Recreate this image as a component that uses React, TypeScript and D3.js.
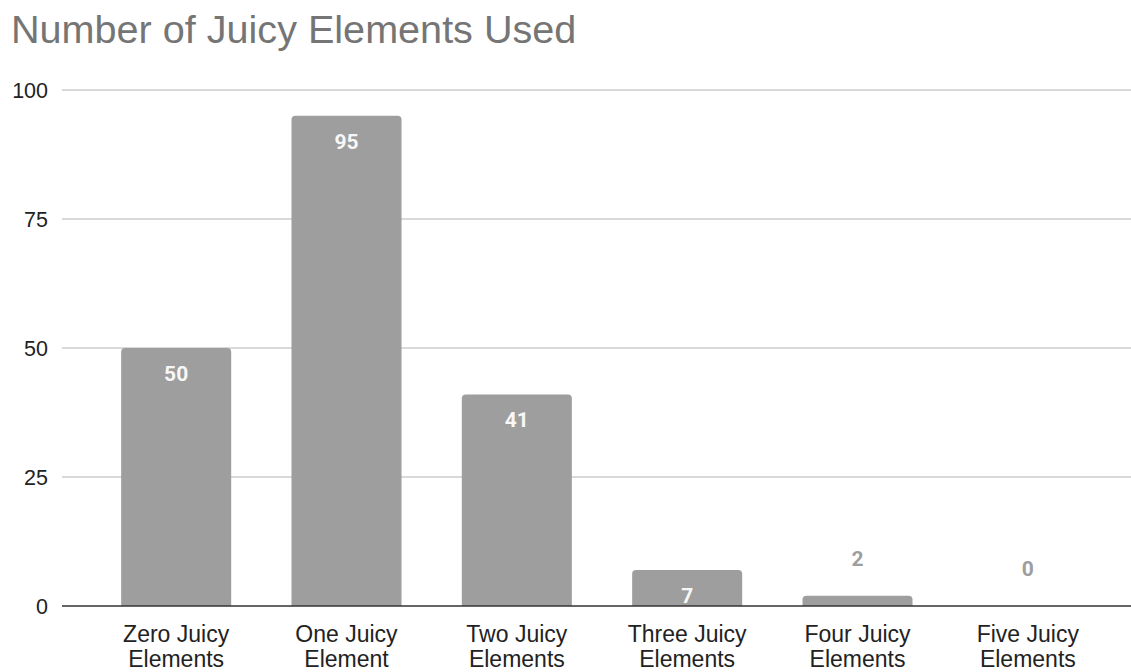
import * as d3 from "d3";

const categories = [
  ["Zero Juicy", "Elements"],
  ["One Juicy", "Element"],
  ["Two Juicy", "Elements"],
  ["Three Juicy", "Elements"],
  ["Four Juicy", "Elements"],
  ["Five Juicy", "Elements"],
];
const counts = [50, 95, 41, 7, 2, 0];
const yTicks = [0, 25, 50, 75, 100];

const W = 1131;
const H = 672;
const BAR = "#9e9e9e";
const SANS = "'Liberation Sans', Arial, sans-serif";

function topRounded(x: number, y: number, w: number, h: number, r: number) {
  const rr = Math.min(r, h, w / 2);
  return `M${x},${y + h}V${y + rr}Q${x},${y} ${x + rr},${y}H${x + w - rr}Q${x + w},${y} ${x + w},${y + rr}V${y + h}Z`;
}

export default function App() {
  const x = d3
    .scaleBand<number>()
    .domain(d3.range(counts.length))
    .range([91, 1113])
    .paddingInner(0.354)
    .paddingOuter(0.177);
  const y = d3.scaleLinear().domain([0, 100]).range([606, 90]);

  return (
    <svg
      width={W}
      height={H}
      style={{ position: "absolute", left: 0, top: 0, background: "#fff" }}
    >
      <text x={11} y={43} fontFamily={SANS} fontSize={39.6} fill="#757575">
        Number of Juicy Elements Used
      </text>

      {yTicks.map((t) => (
        <g key={t}>
          {t !== 0 && (
            <line x1={62} x2={W} y1={y(t)} y2={y(t)} stroke="#cccccc" strokeWidth={1.5} />
          )}
          <text
            x={48}
            y={y(t)}
            dy="0.36em"
            textAnchor="end"
            fontFamily={SANS}
            fontSize={21.5}
            fill="#222"
          >
            {t}
          </text>
        </g>
      ))}

      {counts.map((v, i) => {
        const bx = x(i)!;
        const bw = x.bandwidth();
        const top = y(v);
        const h = y(0) - top;
        const cx = bx + bw / 2;
        // label goes inside the bar when there is room, else above it
        const inside = h > 30;
        return (
          <g key={i}>
            {h > 0 && <path d={topRounded(bx, top, bw, h, 4)} fill={BAR} />}
            <text
              x={cx}
              y={inside ? top + 33 : top - 30}
              textAnchor="middle"
              fontFamily="Roboto, sans-serif"
              fontWeight="bold"
              fontSize={21}
              fill={inside ? "#f7f7f7" : BAR}
            >
              {v}
            </text>
            {categories[i].map((line, k) => (
              <text
                key={k}
                x={cx}
                y={642 + k * 25}
                textAnchor="middle"
                fontFamily={SANS}
                fontSize={23}
                fill="#222"
              >
                {line}
              </text>
            ))}
          </g>
        );
      })}

      <line x1={62} x2={W} y1={y(0)} y2={y(0)} stroke="#333" strokeWidth={1.5} />
    </svg>
  );
}
